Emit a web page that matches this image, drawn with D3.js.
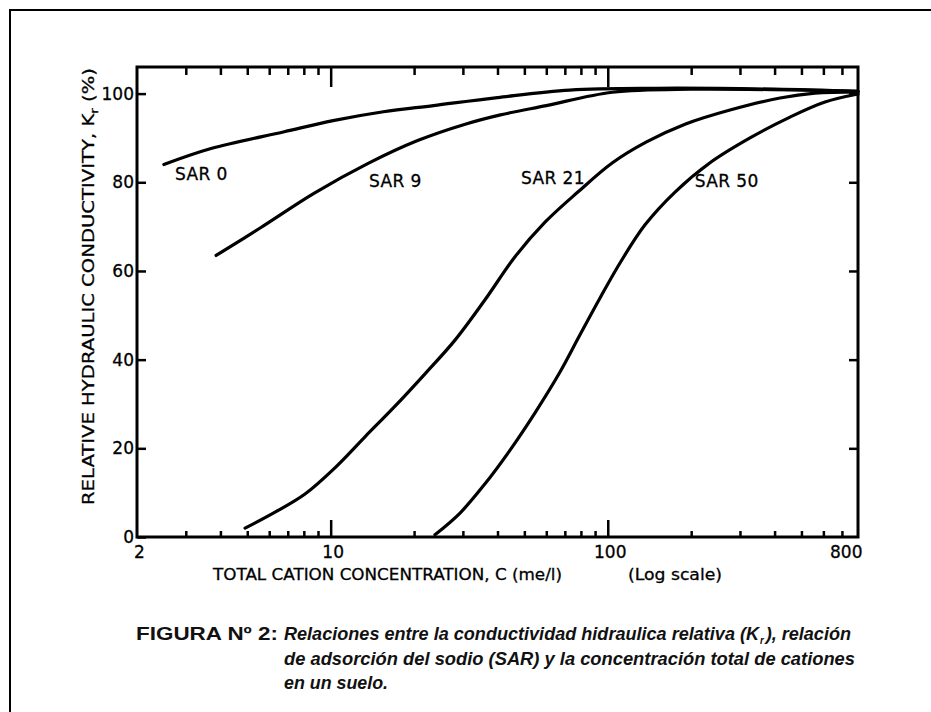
<!DOCTYPE html>
<html>
<head>
<meta charset="utf-8">
<script src="https://cdn.jsdelivr.net/npm/d3@7/dist/d3.min.js"></script>
<style>
  body { margin: 0; background: #fff; }
  svg { display: block; }
  .tick text { font-family: "DejaVu Sans", sans-serif; font-size: 17px; fill: #000; stroke: #000; stroke-width: 0.3px; }
  .ink { fill: #000; stroke: #000; stroke-width: 0.3px; }
</style>
</head>
<body>
<div id="chart"></div>
<script>
// data: C (me/l) vs relative Kr (%)
var sar0C  = [2.5, 3.7, 6.8, 10.2, 15.5, 23.5, 40, 73, 150, 400, 800];
var sar0K  = [84, 87.6, 91.4, 93.9, 95.9, 97.3, 99.1, 100.8, 101.2, 101, 100.5];
var sar9C  = [3.86, 5.6, 8.7, 13.6, 20.6, 31, 41, 60, 104, 200, 800];
var sar9K  = [63.5, 69.8, 77.5, 84.2, 89.4, 93.2, 95.2, 97.3, 100.3, 101, 100.5];
var sar21C = [4.91, 6.3, 8.08, 10.36, 13.3, 17.07, 21.9, 28.1, 36.06, 46.27, 59.37, 78, 104, 138, 190, 276.2, 418.4, 559.7, 800];
var sar21K = [2.0, 5.6, 9.7, 15.6, 22.6, 29.5, 36.8, 44.4, 53.5, 63.2, 71.0, 77.8, 84.4, 89.1, 93.1, 96.3, 99.0, 100.1, 100.4];
var sar50C = [23.79, 29.3, 36.06, 44.4, 54.63, 67.24, 79.39, 93.77, 110.7, 136.3, 174.9, 233.9, 326.1, 454.7, 608.1, 800];
var sar50K = [0.5, 5.4, 12.0, 19.6, 28.0, 37.2, 45.6, 53.9, 61.8, 70.4, 77.8, 84.4, 90.0, 94.7, 98.1, 99.9];

var seriesNames = ["SAR 0", "SAR 9", "SAR 21", "SAR 50"];
var labelAt = [[2.74, 80.5], [13.75, 78.9], [48.6, 79.6], [206, 78.9]];   // label anchor (C, Kr)

var xLabelTicks = [2, 10, 100, 800];
var xMajorTicks = [10, 100];
var xMinorTicks = [3, 4, 5, 6, 7, 8, 9, 20, 30, 40, 50, 60, 70, 80, 90, 200, 300, 400, 500, 600, 700];
var yTicks = [0, 20, 40, 60, 80, 100];

var W = 931, H = 712;
var svg = d3.select("#chart").append("svg").attr("width", W).attr("height", H);

// outer page frame (top and left edge only, as in the scan)
svg.append("path")
  .attr("d", "M10," + H + "V10H" + W)
  .attr("fill", "none").attr("stroke", "#000").attr("stroke-width", 2);

var x = d3.scaleLog().domain([2, 800]).range([137, 858]);
var y = d3.scaleLinear().domain([0, 106]).range([537, 67]);

var g = svg.append("g");

// plot frame
g.append("rect")
  .attr("x", x.range()[0]).attr("y", y.range()[1])
  .attr("width", x.range()[1] - x.range()[0])
  .attr("height", y.range()[0] - y.range()[1])
  .attr("fill", "none").attr("stroke", "#000").attr("stroke-width", 3);

function styleAxis(sel) {
  sel.select(".domain").remove();
  sel.selectAll(".tick line").attr("stroke", "#000").attr("stroke-width", 2.5);
}

// bottom ticks (pointing up into the plot)
g.append("g").attr("transform", "translate(0," + y(0) + ")")
  .call(d3.axisBottom(x).tickValues(xMinorTicks).tickSize(-6).tickFormat(""))
  .call(styleAxis);
g.append("g").attr("transform", "translate(0," + y(0) + ")")
  .call(d3.axisBottom(x).tickValues(xMajorTicks).tickSize(-17).tickFormat(""))
  .call(styleAxis);
g.append("g").attr("transform", "translate(0," + y(0) + ")")
  .call(d3.axisBottom(x).tickValues(xLabelTicks).tickSize(0).tickPadding(9).tickFormat(d3.format("d")))
  .call(styleAxis)
  .selectAll(".tick text").attr("text-anchor", function(d) { return d === 800 ? "end" : "middle"; })
  .attr("dx", function(d) { return d === 800 ? 4 : 2; });

// top ticks (pointing down)
g.append("g").attr("transform", "translate(0," + y.range()[1] + ")")
  .call(d3.axisTop(x).tickValues(xMinorTicks).tickSize(-8).tickFormat(""))
  .call(styleAxis);
g.append("g").attr("transform", "translate(0," + y.range()[1] + ")")
  .call(d3.axisTop(x).tickValues(xMajorTicks).tickSize(-20).tickFormat(""))
  .call(styleAxis);

// left axis
g.append("g").attr("transform", "translate(" + x.range()[0] + ",0)")
  .call(d3.axisLeft(y).tickValues(yTicks).tickSize(-9).tickPadding(3).tickFormat(d3.format("d")))
  .call(styleAxis);

// right axis ticks
g.append("g").attr("transform", "translate(" + x.range()[1] + ",0)")
  .call(d3.axisRight(y).tickValues(yTicks.slice(1)).tickSize(-9).tickFormat(""))
  .call(styleAxis);

// curves
var series = [
  d3.zip(sar0C, sar0K),
  d3.zip(sar9C, sar9K),
  d3.zip(sar21C, sar21K),
  d3.zip(sar50C, sar50K)
];
var line = d3.line()
  .x(function(d) { return x(d[0]); })
  .y(function(d) { return y(d[1]); })
  .curve(d3.curveCatmullRom.alpha(0.5));

g.selectAll(".curve").data(series).enter().append("path")
  .attr("class", "curve")
  .attr("d", line)
  .attr("fill", "none").attr("stroke", "#000").attr("stroke-width", 3.2)
  .attr("stroke-linecap", "round");

g.selectAll(".sar").data(seriesNames).enter().append("text")
  .attr("class", "sar ink")
  .attr("x", function(d, i) { return x(labelAt[i][0]); })
  .attr("y", function(d, i) { return y(labelAt[i][1]); })
  .attr("font-family", "DejaVu Sans, sans-serif")
  .attr("font-size", 17)
  .attr("letter-spacing", 0.4)
  .text(function(d) { return d; });

// axis titles
g.append("text").attr("class", "ink")
  .attr("x", 213).attr("y", 580)
  .attr("font-family", "DejaVu Sans, sans-serif").attr("font-size", 16)
  .attr("textLength", 349).attr("lengthAdjust", "spacingAndGlyphs")
  .text("TOTAL  CATION CONCENTRATION, C  (me/l)");
g.append("text").attr("class", "ink")
  .attr("x", 628).attr("y", 580)
  .attr("font-family", "DejaVu Sans, sans-serif").attr("font-size", 16)
  .attr("textLength", 94).attr("lengthAdjust", "spacingAndGlyphs")
  .text("(Log scale)");

var yt = g.append("text").attr("class", "ink")
  .attr("transform", "translate(94,505) rotate(-90)")
  .attr("font-family", "DejaVu Sans, sans-serif").attr("font-size", 16)
  .attr("textLength", 437).attr("lengthAdjust", "spacingAndGlyphs");
yt.append("tspan").text("RELATIVE  HYDRAULIC  CONDUCTIVITY,  K");
yt.append("tspan").attr("font-size", 11).attr("dy", 4).text("r");
yt.append("tspan").attr("dy", -4).text("  (%)");

// caption
var cap = svg.append("g").attr("font-family", "Liberation Sans, Arial, sans-serif")
  .attr("font-size", 19).attr("font-weight", "bold").attr("fill", "#111");
cap.append("text").attr("x", 136).attr("y", 640)
  .attr("textLength", 142).attr("lengthAdjust", "spacingAndGlyphs")
  .text("FIGURA Nº 2:");
var l1 = cap.append("text").attr("x", 284).attr("y", 640).attr("font-style", "italic")
  .attr("textLength", 567).attr("lengthAdjust", "spacingAndGlyphs");
l1.append("tspan").text("Relaciones entre la conductividad hidraulica relativa (K");
l1.append("tspan").attr("font-size", 10).attr("dy", 4).attr("dx", 1).text("r");
l1.append("tspan").attr("dy", -4).attr("dx", 2).text("), relación");
cap.append("text").attr("x", 284).attr("y", 665).attr("font-style", "italic")
  .attr("textLength", 571).attr("lengthAdjust", "spacingAndGlyphs")
  .text("de adsorción del sodio (SAR) y la concentración total de cationes");
cap.append("text").attr("x", 284).attr("y", 689).attr("font-style", "italic")
  .attr("textLength", 104).attr("lengthAdjust", "spacingAndGlyphs")
  .text("en un suelo.");
</script>
</body>
</html>
